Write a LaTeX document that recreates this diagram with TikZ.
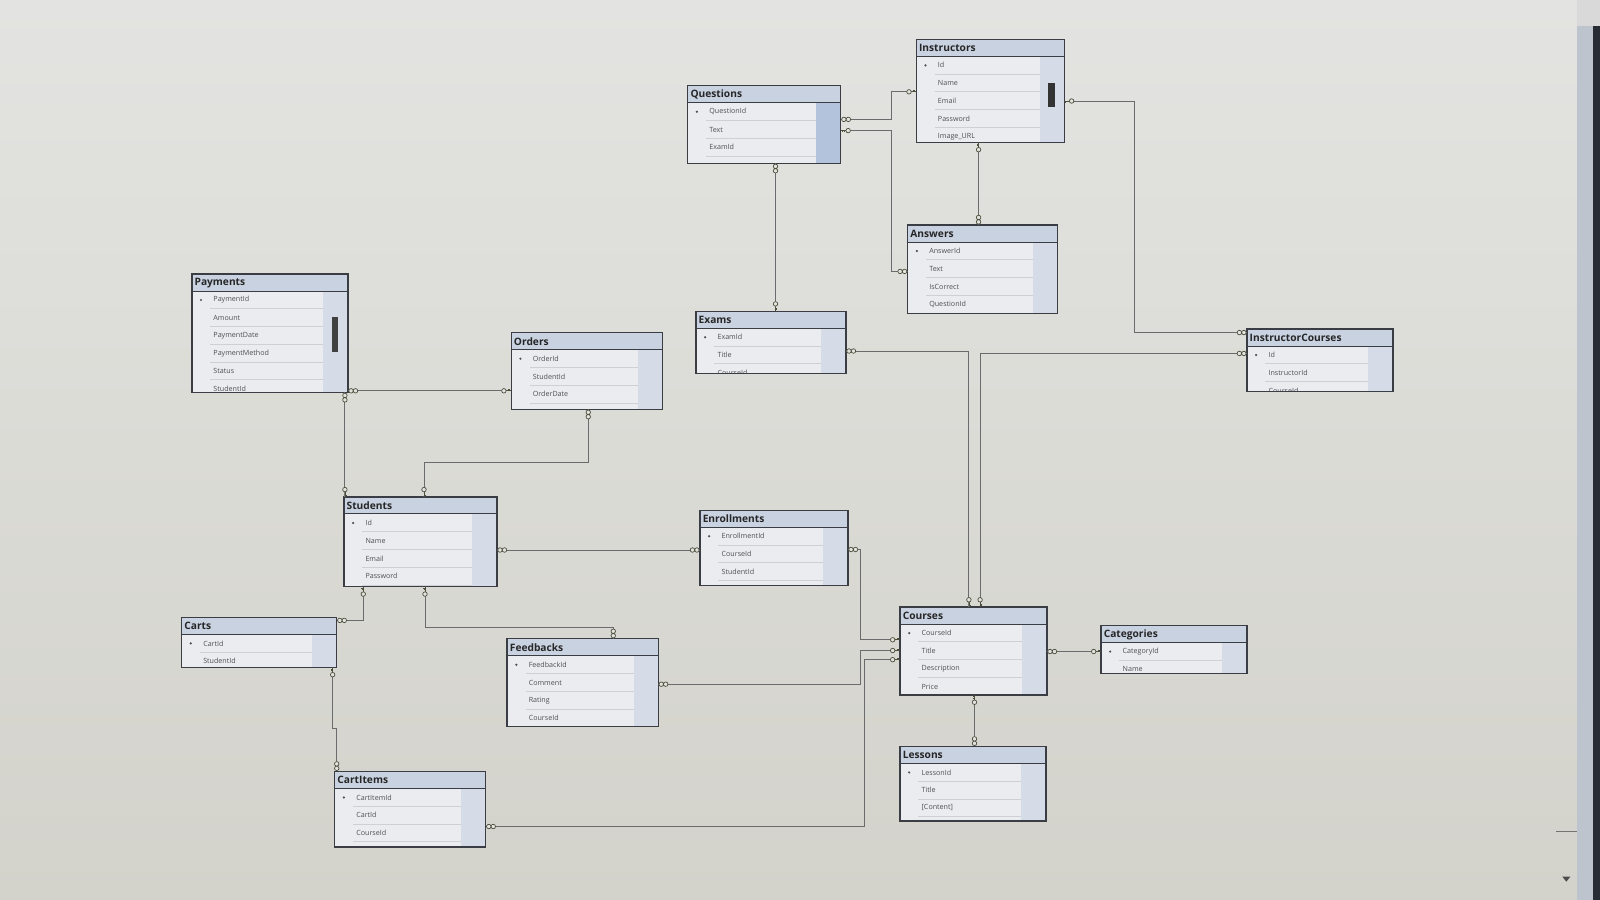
\documentclass[tikz,border=0pt]{standalone}
\usepackage{fontspec}
\setmainfont{Open Sans}
\usetikzlibrary{calc}
\definecolor{bgtop}{RGB}{227,228,225}
\definecolor{bgbot}{RGB}{211,210,203}
\definecolor{bodyc}{RGB}{234,236,239}
\definecolor{titlec}{RGB}{201,210,225}
\definecolor{scrollc}{RGB}{214,220,231}
\definecolor{scrollq}{RGB}{180,195,220}
\definecolor{borderc}{RGB}{58,62,68}
\definecolor{connc}{RGB}{105,107,108}
\definecolor{symc}{RGB}{78,80,60}
\definecolor{fieldc}{RGB}{78,80,86}
\definecolor{sepc}{RGB}{205,208,213}
\definecolor{edgel}{RGB}{190,196,205}
\definecolor{edged}{RGB}{40,44,52}
\tikzset{
  tblbox/.style={rectangle, anchor=north west, inner sep=0pt, outer sep=0pt, fill=bodyc, draw=none},
  titlefill/.style={fill=titlec},
  rowsep/.style={draw=sepc, line width=0.5pt},
  fieldtext/.style={anchor=west, inner sep=0pt, font=\fontsize{7}{8}\selectfont, text=fieldc},
  titletext/.style={anchor=west, inner sep=0pt, font=\fontsize{10}{12}\selectfont\bfseries, text=black!85},
  tblborder/.style={draw=borderc, line width=1.3pt},
  conn/.style={draw=connc, line width=0.8pt},
  sym/.style={draw=symc, line width=0.7pt, fill=bgtop}
}
% #1 name, #2 x, #3 y, #4 w, #5 h, #6 title, #7 rows, #8 scroll colour
\newcommand\dbtab[8]{%
  \node[tblbox, minimum width=#4pt, minimum height=#5pt] (#1) at (#2,#3) {};
  \begin{scope}
    \clip (#1.north west) rectangle (#1.south east);
    \fill[titlefill] (#1.north west) rectangle ([yshift=-16.5pt]#1.north east);
    \fill[#8] ([xshift=-24pt,yshift=-16.5pt]#1.north east) rectangle (#1.south east);
    \foreach \r [count=\i] in {#7} {
      \draw[rowsep] ([xshift=18pt,yshift={-16.5pt-17.4pt*\i}]#1.north west) -- ([xshift=-24pt,yshift={-16.5pt-17.4pt*\i}]#1.north east);
      \node[fieldtext] (#1-f\i) at ([xshift=21pt,yshift={-25.5pt-17.4pt*(\i-1)}]#1.north west) {\r};
    }
    \fill[fieldc] ([xshift=9pt,yshift=-25.5pt]#1.north west) circle (1.2pt);
  \end{scope}
  \draw[tblborder] (#1.north west) rectangle (#1.south east);
  \draw[draw=borderc, line width=0.6pt] ([yshift=-16.5pt]#1.north west) -- ([yshift=-16.5pt]#1.north east);
  \node[titletext] (#1-t) at ([xshift=2.5pt,yshift=-8.7pt]#1.north west) {#6};
}
\newcommand\manyend[2]{\begin{scope}[shift={#1},rotate=#2]\draw[sym] (3pt,0pt) circle (2.2pt) (7.4pt,0pt) circle (2.2pt);\end{scope}}
\newcommand\keyend[2]{\begin{scope}[shift={#1},rotate=#2]\draw[sym] (0pt,0pt) -- (5pt,0pt) (1.5pt,0pt) -- (1.5pt,-1.8pt) (3pt,0pt) -- (3pt,-1.4pt); \draw[sym] (7.2pt,0pt) circle (2.2pt);\end{scope}}

\begin{document}
\begin{tikzpicture}[x=1pt,y=-1pt]
\useasboundingbox (0,0) rectangle (1568,882);
\shade[top color=bgtop, bottom color=bgbot] (0,0) rectangle (1568,882);
% screen edge
\fill[edgel] (1545,0) rectangle (1561,882);
\fill[edged] (1561,25) rectangle (1568,882);
\fill[black!15] (1545,0) rectangle (1568,25);
\draw[black!55, line width=0.8pt] (1525,815) -- (1545,815);
\fill[black!70] (1531,859) -- (1539,859) -- (1535,864) -- cycle;

% tables
\dbtab{Q}{674}{84}{150}{76}{Questions}{QuestionId,Text,ExamId}{scrollq}
\dbtab{I}{898}{38.5}{145}{101}{Instructors}{Id,Name,Email,Password,Image\_URL}{scrollc}
\fill[black!80] ([xshift=-16pt,yshift=-42.5pt]I.north east) rectangle ([xshift=-9pt,yshift=-66.5pt]I.north east);
\dbtab{A}{889.5}{220.5}{147}{86.5}{Answers}{AnswerId,Text,IsCorrect,QuestionId}{scrollc}
\dbtab{P}{188}{268.5}{153}{116}{Payments}{PaymentId,Amount,PaymentDate,PaymentMethod,Status,StudentId}{scrollc}
\fill[black!75] ([xshift=-16pt,yshift=-42.5pt]P.north east) rectangle ([xshift=-9.5pt,yshift=-76pt]P.north east);
\dbtab{O}{501}{326}{148}{75}{Orders}{OrderId,StudentId,OrderDate}{scrollc}
\dbtab{E}{682}{305}{147}{61}{Exams}{ExamId,Title,CourseId}{scrollc}
\dbtab{IC}{1222}{322.4}{143}{61}{InstructorCourses}{Id,InstructorId,CourseId}{scrollc}
\dbtab{S}{337}{487}{150}{88}{Students}{Id,Name,Email,Password}{scrollc}
\dbtab{EN}{686}{500}{145}{74}{Enrollments}{EnrollmentId,CourseId,StudentId}{scrollc}
\dbtab{C}{178}{605}{152}{49}{Carts}{CartId,StudentId}{scrollc}
\dbtab{F}{497}{626}{148}{86}{Feedbacks}{FeedbackId,Comment,Rating,CourseId}{scrollc}
\dbtab{CO}{882}{595}{144}{86}{Courses}{CourseId,Title,Description,Price}{scrollc}
\dbtab{CA}{1079}{613}{143}{47}{Categories}{CategoryId,Name}{scrollc}
\dbtab{L}{882}{731.5}{143}{73}{Lessons}{LessonId,Title,[Content]}{scrollc}
\dbtab{CI}{328}{756}{148}{74}{CartItems}{CartItemId,CartId,CourseId}{scrollc}

% connectors
\coordinate (q1) at ([yshift=-33pt]Q.north east);
\coordinate (i1) at ([yshift=-51.5pt]I.north west);
\draw[conn] (q1) -- ++(50,0) |- (i1);
\coordinate (q2) at ([yshift=-44pt]Q.north east);
\coordinate (a1) at ([yshift=-45.5pt]A.north west);
\draw[conn] (q2) -- ++(50,0) |- (a1);
\coordinate (i2) at ([xshift=61pt]I.south west);
\coordinate (a2) at (i2 |- A.north);
\draw[conn] (i2) -- (a2);
\coordinate (i3) at ([yshift=-60.5pt]I.north east);
\coordinate (ic1) at ([yshift=-3.5pt]IC.north west);
\draw[conn] (i3) -- ++(69,0) |- (ic1);
\coordinate (q3) at ([xshift=86pt]Q.south west);
\coordinate (e0) at (q3 |- E.north);
\draw[conn] (q3) -- (e0);
\coordinate (e1) at ([yshift=-39pt]E.north east);
\coordinate (co1) at ([xshift=67.5pt]CO.north west);
\draw[conn] (e1) -| (co1);
\coordinate (ic2) at ([yshift=-24pt]IC.north west);
\coordinate (co2) at ([xshift=78.5pt]CO.north west);
\draw[conn] (ic2) -| (co2);
\coordinate (p1) at ([yshift=-114.5pt]P.north east);
\coordinate (o1) at (O.west |- p1);
\draw[conn] (p1) -- (o1);
\coordinate (p2) at ([xshift=150pt]P.south west);
\coordinate (s0) at (p2 |- S.north);
\draw[conn] (p2) -- (s0);
\coordinate (o2) at ([xshift=75.5pt]O.south west);
\coordinate (s1) at ([xshift=78.5pt]S.north west);
\draw[conn] (o2) -- ++(0,52) -| (s1);
\coordinate (s2) at ([yshift=-52pt]S.north east);
\coordinate (en0) at (EN.west |- s2);
\draw[conn] (s2) -- (en0);
\coordinate (s3) at ([xshift=19pt]S.south west);
\coordinate (c1) at ([yshift=-3pt]C.north east);
\draw[conn] (s3) |- (c1);
\coordinate (s4) at ([xshift=79.5pt]S.south west);
\coordinate (f1) at ([xshift=104pt]F.north west);
\draw[conn] (s4) -- ++(0,40) -| (f1);
\coordinate (c2) at ([xshift=148pt]C.south west);
\coordinate (ci1) at ([xshift=2pt]CI.north west);
\draw[conn] (c2) -- ++(0,60) -| (ci1);
\coordinate (en1) at ([yshift=-38.5pt]EN.north east);
\coordinate (co3) at ([yshift=-32pt]CO.north west);
\draw[conn] (en1) -- ++(12,0) |- (co3);
\coordinate (f2) at ([yshift=-44.5pt]F.north east);
\coordinate (co4) at ([yshift=-42.5pt]CO.north west);
\draw[conn] (f2) -| ([xshift=-39pt]co4) -- (co4);
\coordinate (ci2) at ([yshift=-54pt]CI.north east);
\coordinate (co5) at ([yshift=-51.5pt]CO.north west);
\draw[conn] (ci2) -| ([xshift=-35pt]co5) -- (co5);
\coordinate (co6) at ([yshift=-43.5pt]CO.north east);
\coordinate (ca0) at (CA.west |- co6);
\draw[conn] (co6) -- (ca0);
\coordinate (co7) at ([xshift=73pt]CO.south west);
\coordinate (l0) at (co7 |- L.north);
\draw[conn] (co7) -- (l0);

% end symbols
\manyend{(q1)}{0} \keyend{(i1)}{180}
\keyend{(q2)}{0} \manyend{(a1)}{180}
\keyend{(i2)}{270} \manyend{(a2)}{90}
\keyend{(i3)}{0} \manyend{(ic1)}{180}
\manyend{(q3)}{270} \keyend{(e0)}{90}
\manyend{(e1)}{0} \keyend{(co1)}{90}
\manyend{(ic2)}{180} \keyend{(co2)}{90}
\manyend{(p1)}{0} \keyend{(o1)}{180}
\manyend{(p2)}{270} \keyend{(s0)}{90}
\manyend{(o2)}{270} \keyend{(s1)}{90}
\manyend{(s2)}{0} \manyend{(en0)}{180}
\keyend{(s3)}{270} \manyend{(c1)}{0}
\keyend{(s4)}{270} \manyend{(f1)}{90}
\keyend{(c2)}{270} \manyend{(ci1)}{90}
\manyend{(en1)}{0} \keyend{(co3)}{180}
\manyend{(f2)}{0} \keyend{(co4)}{180}
\manyend{(ci2)}{0} \keyend{(co5)}{180}
\manyend{(co6)}{0} \keyend{(ca0)}{180}
\keyend{(co7)}{270} \manyend{(l0)}{90}
\end{tikzpicture}
\end{document}
